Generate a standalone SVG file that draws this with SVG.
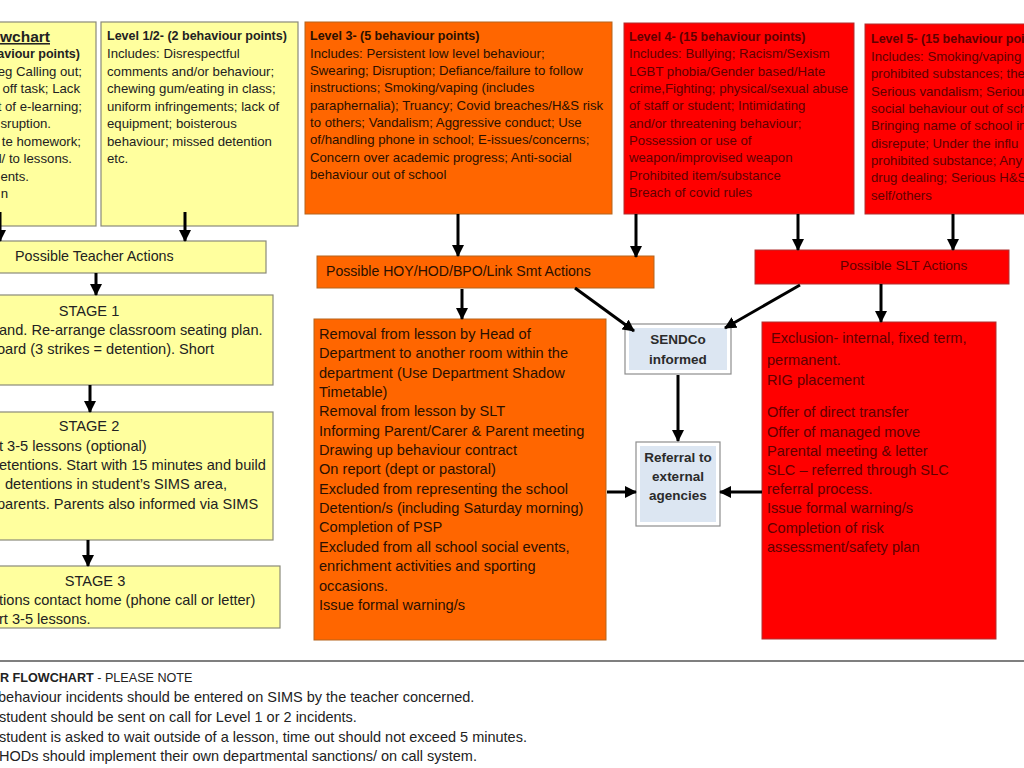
<svg xmlns="http://www.w3.org/2000/svg" width="1024" height="768" viewBox="0 0 1024 768">
<defs>
<marker id="ah" markerUnits="userSpaceOnUse" markerWidth="12" markerHeight="12" viewBox="0 0 12 12" refX="11" refY="6" orient="auto">
<path d="M0,0 L12,6 L0,12 z" fill="#000"/>
</marker>
<style>
text{font-family:"Liberation Sans",Arial,sans-serif;font-size:13.2px}
.yel{fill:#FFFF9E;stroke:#8A8A7A;stroke-width:1.2}
.org{fill:#FF6600;stroke:#B5651D;stroke-width:1}
.red{fill:#FF0000;stroke:#B03030;stroke-width:1}
.blu{fill:#FFFFFF;stroke:#8E8E8E;stroke-width:1.2}
.ty{fill:#222}
.to{fill:#2A1000}
.tr{fill:#600000}
.tb{fill:#2B2B2B;font-weight:bold;font-size:13.5px}
.b{font-weight:bold;font-size:12.5px}
.lg{font-size:14.6px}
.nt{font-size:14.5px}
.e{text-anchor:end}
.conn line{stroke:#000;stroke-width:3;marker-end:url(#ah)}
</style>
</defs>
<rect width="1024" height="768" fill="#FFFFFF"/>

<g id="level0">
<rect class="yel" x="-10" y="22" width="106" height="204"/>
<text class="ty e" x="50" y="42" style="font-weight:bold;font-size:15.5px;text-decoration:underline">wchart</text>
<text class="ty b e" x="80" y="58">aviour points)</text>
<text class="ty e" x="82" y="76">eg Calling out;</text>
<text class="ty e" x="80" y="93">off task; Lack</text>
<text class="ty e" x="82" y="111">t of e-learning;</text>
<text class="ty e" x="51" y="128">sruption.</text>
<text class="ty e" x="81" y="146">te homework;</text>
<text class="ty e" x="72" y="163">l/ to lessons.</text>
<text class="ty e" x="29" y="181">ents.</text>
<text class="ty e" x="8" y="198">n</text>
</g>

<g id="level12">
<rect class="yel" x="101" y="22" width="197" height="204"/>
<text class="ty b" x="107" y="40">Level 1/2- (2 behaviour points)</text>
<text class="ty" x="107" y="58">Includes: Disrespectful</text>
<text class="ty" x="107" y="76">comments and/or behaviour;</text>
<text class="ty" x="107" y="93">chewing gum/eating in class;</text>
<text class="ty" x="107" y="111">uniform infringements; lack of</text>
<text class="ty" x="107" y="128">equipment; boisterous</text>
<text class="ty" x="107" y="146">behaviour; missed detention</text>
<text class="ty" x="107" y="163">etc.</text>
</g>

<g id="level3">
<rect class="org" x="305" y="22" width="307" height="192"/>
<text class="to b" x="310" y="40">Level 3- (5 behaviour points)</text>
<text class="to" x="310" y="58">Includes: Persistent low level behaviour;</text>
<text class="to" x="310" y="75">Swearing; Disruption; Defiance/failure to follow</text>
<text class="to" x="310" y="92">instructions; Smoking/vaping (includes</text>
<text class="to" x="310" y="110">paraphernalia); Truancy; Covid breaches/H&amp;S risk</text>
<text class="to" x="310" y="127">to others; Vandalism; Aggressive conduct; Use</text>
<text class="to" x="310" y="144">of/handling phone in school; E-issues/concerns;</text>
<text class="to" x="310" y="162">Concern over academic progress; Anti-social</text>
<text class="to" x="310" y="179">behaviour out of school</text>
</g>

<g id="level4">
<rect class="red" x="624" y="23" width="230" height="191"/>
<text class="tr b" x="629" y="41">Level 4- (15 behaviour points)</text>
<text class="tr" x="629" y="58">Includes: Bullying; Racism/Sexism</text>
<text class="tr" x="629" y="76">LGBT phobia/Gender based/Hate</text>
<text class="tr" x="629" y="93">crime,Fighting; physical/sexual abuse</text>
<text class="tr" x="629" y="110">of staff or student; Intimidating</text>
<text class="tr" x="629" y="128">and/or threatening behaviour;</text>
<text class="tr" x="629" y="145">Possession or use of</text>
<text class="tr" x="629" y="162">weapon/improvised weapon</text>
<text class="tr" x="629" y="180">Prohibited item/substance</text>
<text class="tr" x="629" y="197">Breach of covid rules</text>
</g>

<g id="level5">
<rect class="red" x="865" y="24" width="170" height="190"/>
<text class="tr b" x="871" y="43">Level 5- (15 behaviour poi</text>
<text class="tr" x="871" y="61">Includes: Smoking/vaping</text>
<text class="tr" x="871" y="78">prohibited substances; the</text>
<text class="tr" x="871" y="96">Serious vandalism; Serious</text>
<text class="tr" x="871" y="113">social behaviour out of sch</text>
<text class="tr" x="871" y="130">Bringing name of school in</text>
<text class="tr" x="871" y="148">disrepute; Under the influ</text>
<text class="tr" x="871" y="165">prohibited substance; Any</text>
<text class="tr" x="871" y="182">drug dealing; Serious H&amp;S</text>
<text class="tr" x="871" y="200">self/others</text>
</g>

<g id="teacher">
<rect class="yel" x="-10" y="241" width="276" height="32"/>
<text class="ty" x="15" y="261" style="font-size:14.3px">Possible Teacher Actions</text>
</g>

<g id="stage1">
<rect class="yel" x="-10" y="295" width="283" height="90"/>
<text class="ty lg" x="89" y="316" text-anchor="middle">STAGE 1</text>
<text class="ty lg" x="-1" y="335">and.  Re-arrange classroom seating plan.</text>
<text class="ty lg" x="-3" y="354">oard (3 strikes = detention). Short</text>
</g>

<g id="stage2">
<rect class="yel" x="-10" y="412" width="283" height="128"/>
<text class="ty lg" x="89" y="431" text-anchor="middle">STAGE 2</text>
<text class="ty lg" x="-1" y="451">t 3-5 lessons (optional)</text>
<text class="ty lg" x="-1" y="470">etentions. Start with 15 minutes and build</text>
<text class="ty lg" x="5" y="489">detentions in student’s SIMS area,</text>
<text class="ty lg" x="-3" y="509">parents. Parents also informed via SIMS</text>
</g>

<g id="stage3">
<rect class="yel" x="-10" y="566" width="290" height="62"/>
<text class="ty lg" x="95" y="586" text-anchor="middle">STAGE 3</text>
<text class="ty lg" x="-1" y="605">tions contact home (phone call or letter)</text>
<text class="ty lg" x="-1" y="624">rt 3-5 lessons.</text>
</g>

<g id="hoy">
<rect class="org" x="317" y="256" width="337" height="32"/>
<text class="to" x="326" y="276" style="font-size:14.1px">Possible HOY/HOD/BPO/Link Smt Actions</text>
</g>

<g id="hoyactions">
<rect class="org" x="314" y="319" width="292" height="321"/>
<text class="to lg" x="319" y="339">Removal from lesson by Head of</text>
<text class="to lg" x="319" y="358">Department to another room within the</text>
<text class="to lg" x="319" y="378">department (Use Department Shadow</text>
<text class="to lg" x="319" y="397">Timetable)</text>
<text class="to lg" x="319" y="416">Removal from lesson by SLT</text>
<text class="to lg" x="319" y="436">Informing Parent/Carer &amp; Parent meeting</text>
<text class="to lg" x="319" y="455">Drawing up behaviour contract</text>
<text class="to lg" x="319" y="474">On report (dept or pastoral)</text>
<text class="to lg" x="319" y="494">Excluded from representing the school</text>
<text class="to lg" x="319" y="513">Detention/s (including Saturday morning)</text>
<text class="to lg" x="319" y="532">Completion of PSP</text>
<text class="to lg" x="319" y="552">Excluded from all school social events,</text>
<text class="to lg" x="319" y="571">enrichment activities and sporting</text>
<text class="to lg" x="319" y="591">occasions.</text>
<text class="to lg" x="319" y="610">Issue formal warning/s</text>
</g>

<g id="slt">
<rect class="red" x="755" y="250" width="254" height="34"/>
<text class="tr" x="840" y="270" style="font-size:13.7px">Possible SLT Actions</text>
</g>

<g id="sltactions">
<rect class="red" x="762" y="322" width="234" height="317"/>
<text class="tr lg" x="771" y="343">Exclusion- internal, fixed term,</text>
<text class="tr lg" x="767" y="365">permanent.</text>
<text class="tr lg" x="767" y="385">RIG placement</text>
<text class="tr lg" x="767" y="417">Offer of direct transfer</text>
<text class="tr lg" x="767" y="437">Offer of managed move</text>
<text class="tr lg" x="767" y="456">Parental meeting &amp; letter</text>
<text class="tr lg" x="767" y="475">SLC – referred through SLC</text>
<text class="tr lg" x="767" y="494">referral process.</text>
<text class="tr lg" x="767" y="513">Issue formal warning/s</text>
<text class="tr lg" x="767" y="533">Completion of risk</text>
<text class="tr lg" x="767" y="552">assessment/safety plan</text>
</g>

<g id="sendco">
<rect class="blu" x="625" y="324" width="106" height="50"/>
<rect x="629" y="328" width="98" height="42" fill="#DCE6F2"/>
<text class="tb" x="678" y="344" text-anchor="middle">SENDCo</text>
<text class="tb" x="678" y="364" text-anchor="middle">informed</text>
</g>

<g id="referral">
<rect class="blu" x="636" y="442" width="84" height="84"/>
<rect x="640" y="446" width="76" height="76" fill="#DCE6F2"/>
<text class="tb" x="678" y="462" text-anchor="middle">Referral to</text>
<text class="tb" x="678" y="481" text-anchor="middle">external</text>
<text class="tb" x="678" y="500" text-anchor="middle">agencies</text>
</g>

<g class="conn" id="connectors">
<line x1="0" y1="212" x2="0" y2="241"/>
<line x1="185" y1="212" x2="185" y2="241"/>
<line x1="96" y1="273" x2="96" y2="295"/>
<line x1="90" y1="385" x2="90" y2="412"/>
<line x1="88" y1="540" x2="88" y2="566"/>
<line x1="458" y1="214" x2="458" y2="256"/>
<line x1="462" y1="289" x2="462" y2="319"/>
<line x1="636" y1="214" x2="636" y2="257"/>
<line x1="798" y1="214" x2="798" y2="250"/>
<line x1="953" y1="214" x2="953" y2="250"/>
<line x1="881" y1="284" x2="881" y2="322"/>
<line x1="575" y1="288" x2="634" y2="331"/>
<line x1="800" y1="285" x2="725" y2="328"/>
<line x1="678" y1="375" x2="678" y2="441"/>
<line x1="607" y1="492" x2="636" y2="492"/>
<line x1="762" y1="492" x2="720" y2="492"/>
</g>

<g id="notes">
<line x1="0" y1="661" x2="1024" y2="661" stroke="#555" stroke-width="1.5"/>
<text class="ty" x="0" y="682" style="font-size:12.6px"><tspan font-weight="bold">R FLOWCHART</tspan> - PLEASE NOTE</text>
<text class="ty nt" x="-2" y="702">behaviour incidents should be entered on SIMS by the teacher concerned.</text>
<text class="ty nt" x="-1" y="722">student should be sent on call for Level 1 or 2 incidents.</text>
<text class="ty nt" x="-1" y="742">student is asked to wait outside of a lesson, time out should not exceed 5 minutes.</text>
<text class="ty nt" x="-1" y="761">HODs should implement their own departmental sanctions/ on call system.</text>
</g>
</svg>
